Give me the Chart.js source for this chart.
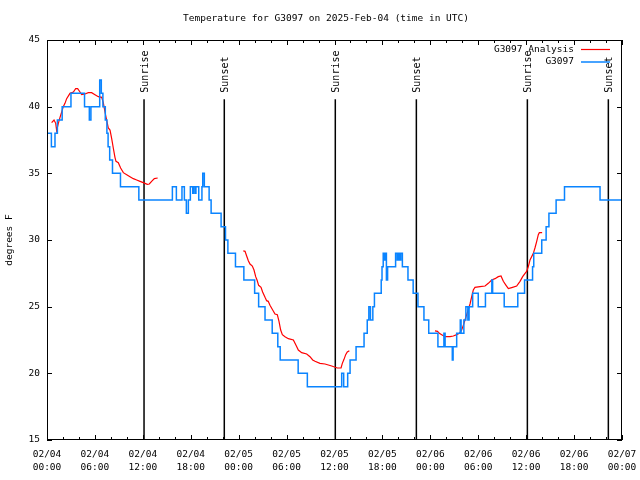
<!DOCTYPE html>
<html>
<head>
<meta charset="utf-8">
<script src="https://cdn.jsdelivr.net/npm/chart.js@4.4.0/dist/chart.umd.min.js"></script>
<style>
  html, body { margin: 0; padding: 0; background: #fff; }
</style>
</head>
<body>
<canvas id="myChart" width="640" height="480"></canvas>
<script>
// data (hours since 02/04 00:00 UTC, degrees F)
const titleText = 'Temperature for G3097 on 2025-Feb-04 (time in UTC)';
const dayLabels = ['02/04', '02/05', '02/06', '02/07'];
const timeLabels = ['00:00', '06:00', '12:00', '18:00'];

// observed station temps, value holds from its time until the next one
const obsTimes = [0.1, 0.55, 1.0, 1.3, 1.9, 3.0, 4.7, 5.3, 5.5, 6.6, 6.8, 7.0, 7.3, 7.5, 7.65, 7.85, 8.2, 9.2, 11.5,
  15.7, 16.2, 16.9, 17.2, 17.45, 17.7, 17.95, 18.25, 18.35, 18.55, 18.65, 19.0, 19.4, 19.5, 19.7, 20.3, 20.55,
  21.8, 22.35, 22.65, 23.6, 24.65, 26.0, 26.5, 27.3, 28.2, 28.9, 29.2, 31.45, 32.6, 36.9, 37.15, 37.65, 37.95,
  38.7, 39.7, 40.1, 40.3, 40.5, 40.8, 41.0, 41.85, 41.95, 42.1, 42.25, 42.35, 42.5, 42.65, 43.65, 43.85, 44.0,
  44.15, 44.3, 44.5, 45.2, 45.85, 46.45, 47.2, 47.8, 48.95, 49.7, 49.85, 50.75, 50.85, 51.3, 51.75, 51.85, 52.2,
  52.45, 52.7, 52.85, 53.3, 54.0, 54.9, 55.7, 55.8, 57.25, 58.95, 59.8, 60.8, 60.95, 61.95, 62.5, 62.85, 63.75,
  64.8, 69.25, 72];
const obsTemps = [38, 37, 38, 39, 40, 41, 40, 39, 40, 42, 41, 40, 39, 38, 37, 36, 35, 34, 33,
  34, 33, 34, 33, 32, 33, 34, 33.5, 34, 33.5, 34, 33, 34, 35, 34, 33, 32,
  31, 30, 29, 28, 27, 26, 25, 24, 23, 22, 21, 20, 19, 20, 19, 20, 21,
  22, 23, 24, 25, 24, 25, 26, 27, 28, 29, 28.5, 29, 27, 28, 29, 28.5, 29,
  28.5, 29, 28, 27, 26, 25, 24, 23, 22, 23, 22, 21, 22, 23, 24, 23, 24,
  25, 24, 25, 26, 25, 26, 27, 26, 25, 26, 27, 28, 29, 30, 31, 32, 33,
  34, 33, 33];

// analysis, null = gap
const anaTimes = [0.58, 0.88, 1.09, 1.21, 1.42, 1.63, 1.84, 2.04, 2.25, 2.46, 2.88, 3.3, 3.59, 3.84, 4.13, 4.34,
  4.76, 5.17, 5.59, 6.01, 6.43, 6.85, 7.05, 7.26, 7.47, 7.68, 7.89, 8.1, 8.3, 8.51, 8.64, 8.93, 9.22, 9.56,
  9.98, 10.39, 10.81, 11.23, 11.65, 12.06, 12.27, 12.56, 12.81, 13.1, 13.44, 13.86,
  14.2,
  24.58, 24.8, 25.0, 25.21, 25.42, 25.71, 25.92, 26.13, 26.3, 26.5, 26.8, 27.0, 27.3, 27.5, 27.7, 27.92,
  28.26, 28.55, 28.84, 29.05, 29.26, 29.47, 29.8, 30.22, 30.85, 31.18, 31.47, 31.89, 32.52, 32.93, 33.27,
  33.56, 34.18, 34.81, 35.65, 36.35, 36.82, 36.98, 37.19, 37.4, 37.6, 37.86,
  38.2,
  48.58, 48.9, 49.13, 49.42, 49.84, 50.46, 50.88, 51.3, 51.63, 51.92, 52.13, 52.34, 52.55, 52.76, 52.97,
  53.18, 53.38, 53.59, 54.22, 54.85, 55.26, 55.68, 56.1, 56.51, 56.85, 57.14, 57.48, 57.77, 58.19, 58.81,
  59.23, 59.56, 59.86, 60.06, 60.27, 60.48, 60.9, 61.1, 61.32, 61.52, 61.65, 62.0];
const anaTemps = [38.8, 39.0, 38.75, 38.2, 38.75, 39.2, 39.6, 40.0, 40.25, 40.6, 41.0, 41.1, 41.35, 41.35, 41.1, 40.9,
  40.95, 41.05, 41.05, 40.9, 40.75, 40.7, 40.3, 39.6, 39.0, 38.4, 38.25, 37.6, 36.9, 36.2, 35.9, 35.8, 35.4, 35.05,
  34.9, 34.75, 34.6, 34.5, 34.4, 34.3, 34.25, 34.17, 34.2, 34.4, 34.6, 34.65,
  null,
  29.18, 29.15, 28.8, 28.45, 28.2, 28.05, 27.75, 27.25, 27.0, 26.6, 26.45, 26.1, 25.7, 25.45, 25.4, 25.1,
  24.75, 24.45, 24.4, 23.9, 23.25, 22.9, 22.75, 22.6, 22.5, 22.1, 21.75, 21.55, 21.45, 21.25, 21.0,
  20.9, 20.75, 20.7, 20.55, 20.4, 20.4, 20.75, 21.05, 21.4, 21.6, 21.7,
  null,
  23.18, 23.15, 23.0, 22.9, 22.75, 22.75, 22.8, 22.9, 23.0, 23.25, 23.6, 24.0, 24.4, 24.8, 25.2,
  25.75, 26.25, 26.45, 26.5, 26.55, 26.75, 27.0, 27.1, 27.25, 27.3, 26.9, 26.6, 26.35, 26.43, 26.55,
  26.9, 27.25, 27.5, 27.65, 28.0, 28.5, 29.0, 29.4, 29.9, 30.4, 30.55, 30.55];

const sunriseTimes = [12.15, 36.1, 60.15];
const sunsetTimes = [22.2, 46.25, 70.29];

const toPoints = (xs, ys) => xs.map((t, i) => ({x: t, y: ys[i]}));

Chart.defaults.font.family = 'DejaVu Sans Mono';
Chart.defaults.font.size = 9.5;
Chart.defaults.color = '#000';

// sunrise / sunset markers, frame, inward ticks, legend, title
const gnuDecor = {
  id: 'gnuDecor',
  beforeDatasetsDraw(chart) {
    const {ctx, chartArea: a, scales: {x, y}} = chart;
    ctx.save();
    ctx.strokeStyle = '#000';
    ctx.fillStyle = '#000';
    ctx.lineWidth = 1.5;
    ctx.font = '10px "DejaVu Sans Mono"';
    const marks = sunriseTimes.map(t => [t, 'Sunrise']).concat(sunsetTimes.map(t => [t, 'Sunset']));
    marks.forEach(([t, name]) => {
      const px = x.getPixelForValue(t);
      ctx.beginPath();
      ctx.moveTo(px, y.getPixelForValue(40.55));
      ctx.lineTo(px, a.bottom);
      ctx.stroke();
      ctx.save();
      ctx.translate(px + 1, y.getPixelForValue(41.05));
      ctx.rotate(-Math.PI / 2);
      ctx.textAlign = 'left';
      ctx.textBaseline = 'middle';
      ctx.fillText(name, 0, 0);
      ctx.restore();
    });
    ctx.restore();
  },
  afterDraw(chart) {
    const {ctx, chartArea: a, scales: {x, y}} = chart;
    ctx.save();
    ctx.strokeStyle = '#000';
    ctx.lineWidth = 1;
    ctx.strokeRect(a.left + 0.5, a.top + 0.5, a.width - 1, a.height - 1);

    ctx.beginPath();
    for (let t = x.min; t <= x.max; t += 2) {
      const px = Math.round(x.getPixelForValue(t)) + 0.5;
      const len = t % 6 === 0 ? 5 : 3;
      ctx.moveTo(px, a.bottom); ctx.lineTo(px, a.bottom - len);
      ctx.moveTo(px, a.top); ctx.lineTo(px, a.top + len);
    }
    y.ticks.forEach(tk => {
      const py = Math.round(y.getPixelForValue(tk.value)) + 0.5;
      ctx.moveTo(a.left, py); ctx.lineTo(a.left + 5, py);
      ctx.moveTo(a.right, py); ctx.lineTo(a.right - 5, py);
    });
    ctx.stroke();

    // legend
    ctx.font = '9.5px "DejaVu Sans Mono"';
    ctx.textAlign = 'right';
    ctx.textBaseline = 'middle';
    ctx.fillStyle = '#000';
    chart.data.datasets.forEach((ds, i) => {
      const ly = a.top + 9.5 + i * 12.5;
      ctx.fillText(ds.label, a.right - 48, ly);
      ctx.strokeStyle = ds.borderColor;
      ctx.lineWidth = ds.borderWidth;
      ctx.beginPath();
      ctx.moveTo(a.right - 41, ly);
      ctx.lineTo(a.right - 12, ly);
      ctx.stroke();
    });

    // title
    ctx.textAlign = 'center';
    ctx.fillText(titleText, 326, 19);
    ctx.restore();
  }
};

const config = {
  type: 'line',
  data: {
    datasets: [{
      label: 'G3097 Analysis',
      data: toPoints(anaTimes, anaTemps),
      borderColor: '#ff0000',
      borderWidth: 1.2,
      pointRadius: 0,
      spanGaps: false,
      order: 1
    }, {
      label: 'G3097',
      data: toPoints(obsTimes, obsTemps),
      borderColor: '#0a84ff',
      borderWidth: 1.5,
      pointRadius: 0,
      stepped: 'before',
      order: 0
    }]
  },
  options: {
    responsive: false,
    animation: false,
    events: [],
    layout: { padding: { top: 40, right: 18, left: 0, bottom: 0 } },
    plugins: {
      legend: { display: false },
      tooltip: { enabled: false }
    },
    scales: {
      x: {
        type: 'linear',
        min: 0,
        max: 72,
        grid: { display: false, drawTicks: false, tickLength: 0 },
        border: { display: false },
        ticks: {
          stepSize: 6,
          padding: 8,
          maxRotation: 0,
          autoSkip: false,
          font: { lineHeight: 1.35 },
          callback: v => [dayLabels[Math.floor(v / 24)], timeLabels[(v % 24) / 6]]
        },
        afterFit(s) {
          s.height = 40;
          s.paddingLeft = 0;
          s.paddingRight = 0;
        }
      },
      y: {
        min: 15,
        max: 45,
        grid: { display: false, drawTicks: false, tickLength: 0 },
        border: { display: false },
        ticks: { stepSize: 5, padding: 7 },
        title: { display: true, text: 'degrees F', padding: { top: 4, bottom: 0 } },
        afterFit(s) {
          s.width = 47;
          s.paddingTop = 0;
          s.paddingBottom = 0;
        }
      }
    }
  },
  plugins: [gnuDecor]
};

const myChart = new Chart(document.getElementById('myChart'), config);
</script>
</body>
</html>
